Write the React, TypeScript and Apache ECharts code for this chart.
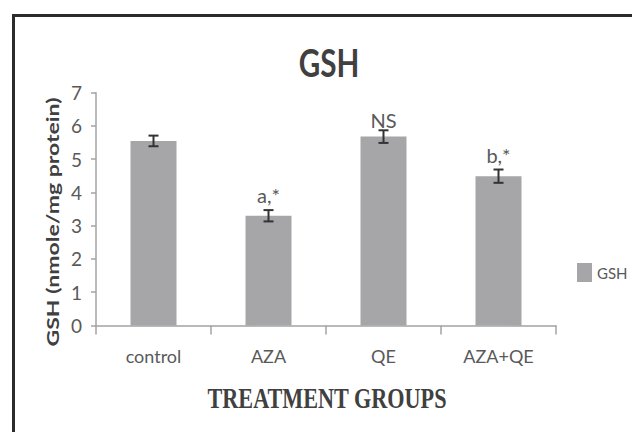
import React, { useEffect, useRef } from "react";
import * as echarts from "echarts";

const categories = ["control", "AZA", "QE", "AZA+QE"];
const gshValues = [5.55, 3.3, 5.68, 4.49];
const gshErrors = [0.16, 0.17, 0.19, 0.2];
const significance = ["", "a,*", "NS", "b,*"];
const seriesName = "GSH";
const titleText = "GSH";
const yAxisTitle = "GSH (nmole/mg protein)";
const xAxisTitle = "TREATMENT GROUPS";

const labelColor = "#595959";
const barColor = "#a6a6a8";

export default function App() {
  const ref = useRef<HTMLDivElement>(null);
  useEffect(() => {
    if (!ref.current) return;
    const chart = echarts.init(ref.current, null, { renderer: "svg" });
    const option: any = {
      animation: false,
      backgroundColor: "#ffffff",
      grid: { left: 96, right: 76, top: 92.7, bottom: 106.5, containLabel: false },
      legend: {
        data: [seriesName],
        left: 572,
        top: 258,
        icon: "rect",
        itemWidth: 15,
        itemHeight: 19,
        itemGap: 5,
        textStyle: { fontFamily: "Lato", fontSize: 15, color: labelColor },
      },
      xAxis: {
        type: "category",
        data: categories,
        axisLine: { show: true, lineStyle: { color: "#a3a3a3", width: 1.5 } },
        axisTick: { show: true, length: 9, lineStyle: { color: "#a3a3a3", width: 1.5 } },
        axisLabel: { fontFamily: "Lato", fontSize: 18, color: labelColor, margin: 21 },
      },
      yAxis: {
        type: "value",
        min: 0,
        max: 7,
        interval: 1,
        axisLine: { show: true, lineStyle: { color: "#a3a3a3", width: 1.5 } },
        axisTick: { show: true, length: 5, lineStyle: { color: "#a3a3a3", width: 1.5 } },
        splitLine: { show: false },
        axisLabel: { fontFamily: "Lato", fontSize: 19, color: labelColor, margin: 14 },
      },
      graphic: [
        {
          type: "rect",
          shape: { x: 13.5, y: 15.5, width: 700, height: 500 },
          style: { fill: "none", stroke: "#2b2b2b", lineWidth: 3 },
        },
        {
          type: "text",
          x: 329,
          y: 62,
          scaleX: 0.78,
          style: {
            text: titleText,
            fontFamily: "Lato",
            fontWeight: "bold",
            fontSize: 38,
            fill: "#404040",
            textAlign: "center",
            textVerticalAlign: "middle",
          },
        },
        {
          type: "text",
          x: 52,
          y: 222,
          rotation: Math.PI / 2,
          scaleY: 0.78,
          style: {
            text: yAxisTitle,
            fontFamily: "Lato",
            fontWeight: "bold",
            fontSize: 23,
            fill: "#404040",
            textAlign: "center",
            textVerticalAlign: "middle",
          },
        },
        {
          type: "text",
          x: 327,
          y: 398,
          scaleX: 0.74,
          style: {
            text: xAxisTitle,
            fontFamily: "Liberation Serif",
            fontWeight: "bold",
            fontSize: 30,
            fill: "#404040",
            textAlign: "center",
            textVerticalAlign: "middle",
          },
        },
      ],
      series: [
        {
          name: seriesName,
          type: "bar",
          data: gshValues,
          barWidth: 46,
          itemStyle: { color: barColor },
        },
        {
          type: "custom",
          data: categories.map((c, i) => [i, gshValues[i], gshErrors[i]]),
          z: 5,
          renderItem: (params: any, api: any) => {
            const i = api.value(0);
            const v = api.value(1);
            const e = api.value(2);
            const top = api.coord([i, v + e]);
            const bot = api.coord([i, v - e]);
            const x = top[0];
            const hw = 5;
            const lineStyle = { stroke: "#333333", lineWidth: 2 };
            const children: any[] = [
              { type: "line", shape: { x1: x, y1: top[1], x2: x, y2: bot[1] }, style: lineStyle },
              { type: "line", shape: { x1: x - hw, y1: top[1], x2: x + hw, y2: top[1] }, style: lineStyle },
              { type: "line", shape: { x1: x - hw, y1: bot[1], x2: x + hw, y2: bot[1] }, style: lineStyle },
            ];
            const lbl = significance[params.dataIndex];
            if (lbl) {
              children.push({
                type: "text",
                x: x,
                y: top[1] - (lbl === "NS" ? 0 : 5),
                style: {
                  text: lbl,
                  fontFamily: "Lato",
                  fontSize: 20,
                  fill: labelColor,
                  textAlign: "center",
                  textVerticalAlign: "bottom",
                },
              });
            }
            return { type: "group", children };
          },
        },
      ],
    };
    chart.setOption(option);
    return () => chart.dispose();
  }, []);
  return (
    <div
      ref={ref}
      style={{ position: "absolute", left: 0, top: 0, width: 632, height: 432 }}
    />
  );
}
